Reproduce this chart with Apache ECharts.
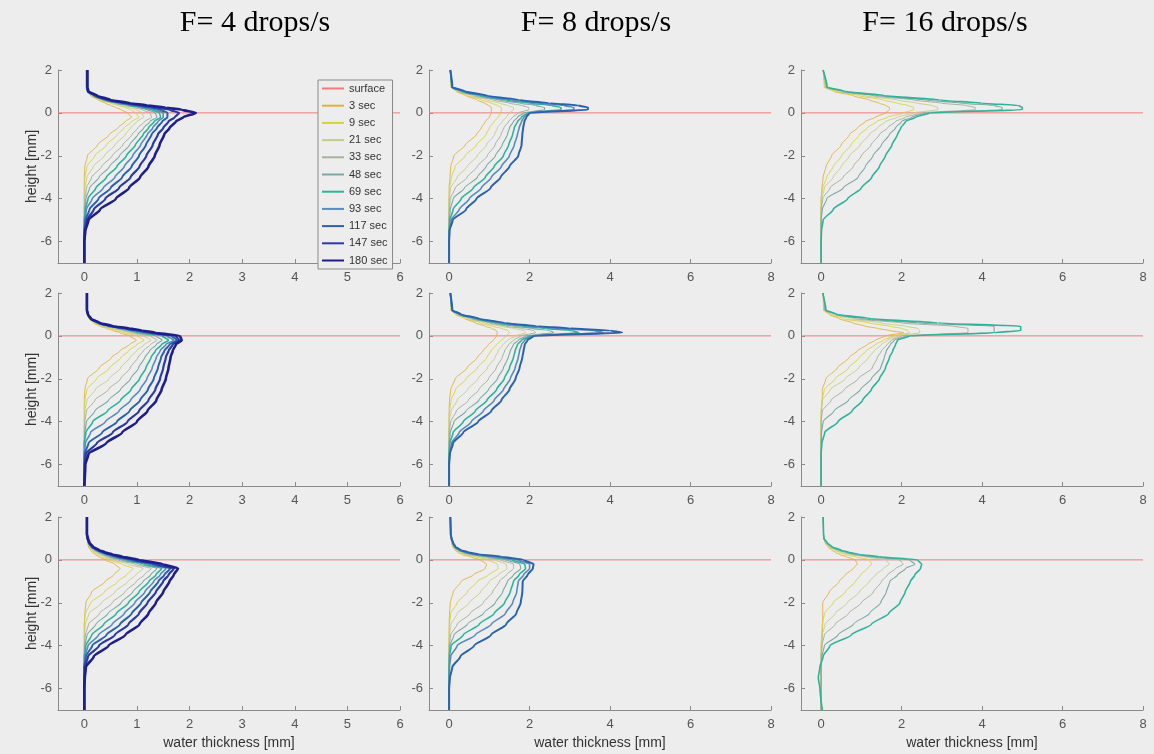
<!DOCTYPE html>
<html>
<head>
<meta charset="utf-8">
<script src="https://cdn.jsdelivr.net/npm/echarts@6/dist/echarts.min.js"></script>
<style>
html,body{margin:0;padding:0;background:#ededed;}
#chart{width:1154px;height:754px;}
</style>
</head>
<body>
<div id="chart"></div>
<script>
// ---------------- DATA ----------------
const heights = [2, 1.2, 1.0, 0.8, 0.6, 0.45, 0.35, 0.25, 0.15, 0, -0.2, -0.4, -0.7, -1, -1.5, -2, -2.5, -3, -3.5, -4, -4.5, -5, -5.5, -6, -7];
const timeLabels = ['3 sec', '9 sec', '21 sec', '33 sec', '48 sec', '69 sec', '93 sec', '117 sec', '147 sec', '180 sec'];
const panelTitles = ['F= 4 drops/s', 'F= 8 drops/s', 'F= 16 drops/s'];
const xTicksF4 = [0, 1, 2, 3, 4, 5, 6];
const xTicksF8F16 = [0, 2, 4, 6, 8];
const yTicks = [-6, -4, -2, 0, 2];
const surfaceXF4 = [-0.5, 6];
const surfaceXF8F16 = [-0.5, 8];
const surfaceH = [0, 0];

// water thickness [mm] at each height, one array per time
const thkF4_row1 = [
  [0.05,0.05,0.06,0.12,0.26,0.4,0.5,0.6,0.7,0.82,0.9,0.78,0.64,0.48,0.25,0.06,0.01,0,0,0,0,0,0,0,0],
  [0.05,0.05,0.06,0.14,0.3,0.5,0.64,0.78,0.88,0.98,1.04,0.9,0.76,0.63,0.42,0.2,0.05,0.01,0,0,0,0,0,0,0],
  [0.05,0.05,0.06,0.15,0.32,0.54,0.7,0.86,0.99,1.1,1.13,1.0,0.88,0.78,0.58,0.38,0.17,0.05,0.01,0,0,0,0,0,0],
  [0.05,0.05,0.06,0.16,0.34,0.58,0.77,0.95,1.1,1.25,1.28,1.15,1.02,0.91,0.73,0.53,0.33,0.14,0.04,0.01,0,0,0,0,0],
  [0.05,0.05,0.06,0.17,0.36,0.62,0.83,1.03,1.2,1.35,1.38,1.25,1.13,1.02,0.86,0.67,0.48,0.28,0.1,0.03,0.01,0,0,0,0],
  [0.05,0.05,0.06,0.18,0.38,0.66,0.88,1.1,1.28,1.43,1.45,1.33,1.22,1.12,0.97,0.8,0.62,0.42,0.22,0.07,0.02,0,0,0,0],
  [0.05,0.05,0.07,0.19,0.4,0.7,0.94,1.18,1.36,1.5,1.5,1.4,1.3,1.2,1.07,0.92,0.76,0.58,0.36,0.15,0.04,0.01,0,0,0],
  [0.05,0.05,0.07,0.2,0.42,0.74,1.0,1.25,1.45,1.58,1.58,1.48,1.38,1.28,1.17,1.04,0.9,0.72,0.5,0.27,0.1,0.02,0,0,0],
  [0.05,0.05,0.07,0.22,0.45,0.8,1.08,1.38,1.62,1.8,1.72,1.6,1.5,1.4,1.3,1.18,1.05,0.88,0.66,0.4,0.18,0.05,0.01,0,0],
  [0.06,0.06,0.08,0.25,0.5,0.88,1.2,1.55,1.85,2.12,1.88,1.74,1.62,1.52,1.43,1.34,1.22,1.06,0.85,0.6,0.3,0.08,0.02,0,0]
];
const thkF4_row2 = [
  [0.05,0.05,0.06,0.09,0.18,0.3,0.42,0.54,0.67,0.86,0.99,0.86,0.68,0.52,0.28,0.06,0.01,0,0,0,0,0,0,0,0],
  [0.05,0.05,0.06,0.09,0.2,0.34,0.48,0.61,0.76,1.0,1.14,1.0,0.84,0.7,0.48,0.23,0.05,0.01,0,0,0,0,0,0,0],
  [0.05,0.05,0.06,0.1,0.21,0.37,0.53,0.68,0.84,1.12,1.27,1.14,0.99,0.87,0.69,0.47,0.21,0.05,0.01,0,0,0,0,0,0],
  [0.05,0.05,0.06,0.1,0.22,0.4,0.58,0.75,0.92,1.25,1.38,1.26,1.12,1.02,0.87,0.69,0.46,0.2,0.04,0.01,0,0,0,0,0],
  [0.05,0.05,0.06,0.11,0.24,0.43,0.64,0.82,1.0,1.36,1.48,1.37,1.24,1.15,1.03,0.88,0.69,0.46,0.2,0.04,0.01,0,0,0,0],
  [0.05,0.05,0.07,0.11,0.25,0.46,0.68,0.88,1.08,1.48,1.6,1.47,1.35,1.27,1.17,1.05,0.89,0.69,0.44,0.16,0.03,0,0,0,0],
  [0.05,0.05,0.07,0.12,0.26,0.48,0.72,0.93,1.15,1.57,1.7,1.55,1.44,1.37,1.29,1.19,1.06,0.88,0.66,0.4,0.12,0.02,0,0,0],
  [0.05,0.05,0.07,0.12,0.27,0.5,0.76,0.98,1.22,1.66,1.76,1.62,1.52,1.46,1.4,1.32,1.21,1.06,0.86,0.62,0.34,0.08,0.01,0,0],
  [0.05,0.05,0.07,0.12,0.28,0.52,0.8,1.04,1.28,1.74,1.8,1.68,1.6,1.55,1.5,1.44,1.35,1.22,1.04,0.82,0.54,0.24,0.03,0.01,0],
  [0.05,0.05,0.07,0.13,0.3,0.55,0.86,1.1,1.35,1.82,1.85,1.74,1.68,1.64,1.6,1.55,1.47,1.37,1.2,1.0,0.72,0.42,0.08,0.02,0]
];
const thkF4_row3 = [
  [0.05,0.05,0.06,0.06,0.08,0.12,0.16,0.21,0.27,0.4,0.58,0.68,0.56,0.4,0.14,0.03,0.01,0,0,0,0,0,0,0,0],
  [0.05,0.05,0.06,0.07,0.09,0.14,0.19,0.25,0.32,0.48,0.72,0.93,0.8,0.64,0.38,0.12,0.02,0,0,0,0,0,0,0,0],
  [0.05,0.05,0.06,0.07,0.1,0.16,0.22,0.29,0.38,0.56,0.84,1.12,0.98,0.83,0.58,0.33,0.09,0.02,0,0,0,0,0,0,0],
  [0.05,0.05,0.06,0.07,0.11,0.18,0.25,0.33,0.43,0.64,0.95,1.27,1.14,0.99,0.77,0.53,0.29,0.08,0.02,0,0,0,0,0,0],
  [0.05,0.05,0.06,0.08,0.12,0.2,0.28,0.37,0.48,0.71,1.05,1.38,1.26,1.12,0.92,0.7,0.45,0.22,0.05,0.01,0,0,0,0,0],
  [0.05,0.05,0.06,0.08,0.13,0.22,0.31,0.41,0.53,0.78,1.14,1.47,1.36,1.23,1.04,0.84,0.61,0.37,0.14,0.03,0,0,0,0,0],
  [0.05,0.05,0.06,0.08,0.14,0.24,0.33,0.44,0.57,0.84,1.22,1.55,1.44,1.32,1.15,0.96,0.76,0.53,0.27,0.07,0.01,0,0,0,0],
  [0.05,0.05,0.06,0.09,0.15,0.25,0.35,0.47,0.61,0.9,1.3,1.63,1.52,1.41,1.25,1.08,0.9,0.68,0.42,0.15,0.03,0,0,0,0],
  [0.05,0.05,0.06,0.09,0.16,0.27,0.37,0.5,0.66,0.96,1.38,1.7,1.6,1.5,1.36,1.2,1.04,0.84,0.58,0.28,0.07,0.01,0,0,0],
  [0.05,0.05,0.07,0.1,0.17,0.29,0.4,0.55,0.72,1.05,1.5,1.78,1.7,1.62,1.5,1.36,1.22,1.05,0.78,0.46,0.18,0.03,0.01,0,0]
];
const thkF8_row1 = [
  [0.03,0.05,0.18,0.42,0.7,0.88,0.98,1.05,1.05,1.05,1.0,0.9,0.8,0.68,0.4,0.12,0.04,0.02,0,0,0,0,0,0,0],
  [0.03,0.05,0.2,0.48,0.82,1.05,1.2,1.3,1.3,1.28,1.22,1.12,1.0,0.92,0.68,0.4,0.15,0.06,0.01,0,0,0,0,0,0],
  [0.03,0.05,0.22,0.55,0.95,1.25,1.45,1.6,1.6,1.5,1.42,1.32,1.2,1.13,0.93,0.7,0.45,0.2,0.04,0,0,0,0,0,0],
  [0.03,0.06,0.25,0.62,1.1,1.5,1.8,1.98,1.98,1.72,1.58,1.48,1.36,1.29,1.14,0.95,0.7,0.45,0.15,0.03,0,0,0,0,0],
  [0.03,0.06,0.28,0.7,1.25,1.75,2.15,2.37,2.37,1.85,1.7,1.6,1.5,1.45,1.32,1.15,0.92,0.7,0.38,0.1,0.03,0,0,0,0],
  [0.03,0.07,0.32,0.78,1.4,2.0,2.55,2.78,2.78,1.95,1.8,1.7,1.62,1.58,1.48,1.35,1.12,0.9,0.6,0.3,0.1,0.02,0,0,0],
  [0.03,0.07,0.35,0.85,1.55,2.2,2.85,3.1,3.1,1.98,1.86,1.8,1.74,1.7,1.62,1.5,1.3,1.05,0.8,0.5,0.25,0.05,0.01,0,0],
  [0.03,0.08,0.4,0.95,1.75,2.5,3.2,3.45,3.45,2.0,1.92,1.87,1.84,1.82,1.8,1.72,1.5,1.28,1.03,0.68,0.42,0.09,0.01,0,0]
];
const thkF8_row2 = [
  [0.03,0.05,0.16,0.4,0.66,0.9,1.06,1.17,1.2,1.18,1.1,0.98,0.84,0.7,0.44,0.15,0.04,0.01,0,0,0,0,0,0,0],
  [0.03,0.05,0.18,0.45,0.78,1.08,1.3,1.46,1.5,1.42,1.3,1.18,1.04,0.94,0.7,0.42,0.16,0.05,0.01,0,0,0,0,0,0],
  [0.03,0.05,0.2,0.5,0.9,1.28,1.6,1.85,1.9,1.65,1.46,1.34,1.22,1.14,0.95,0.72,0.46,0.2,0.05,0,0,0,0,0,0],
  [0.03,0.06,0.22,0.55,1.0,1.42,1.8,2.1,2.15,1.78,1.6,1.48,1.38,1.32,1.17,0.98,0.74,0.48,0.18,0.04,0,0,0,0,0],
  [0.03,0.06,0.24,0.6,1.1,1.6,2.05,2.5,2.6,1.9,1.72,1.6,1.52,1.47,1.35,1.2,0.98,0.74,0.42,0.12,0.03,0,0,0,0],
  [0.03,0.07,0.26,0.65,1.2,1.8,2.4,3.05,3.22,2.0,1.8,1.7,1.64,1.6,1.5,1.37,1.18,0.94,0.65,0.35,0.1,0.02,0,0,0],
  [0.03,0.07,0.28,0.7,1.3,2.0,2.75,3.6,3.85,2.05,1.88,1.8,1.75,1.72,1.64,1.52,1.35,1.12,0.85,0.55,0.25,0.06,0.01,0,0],
  [0.03,0.08,0.3,0.75,1.4,2.2,3.0,4.0,4.3,2.1,1.95,1.88,1.85,1.82,1.75,1.65,1.5,1.3,1.05,0.72,0.35,0.1,0.02,0,0]
];
const thkF8_row3 = [
  [0.03,0.04,0.05,0.06,0.09,0.15,0.22,0.32,0.52,0.78,0.93,0.9,0.6,0.3,0.1,0.03,0.01,0,0,0,0,0,0,0,0],
  [0.03,0.04,0.05,0.07,0.1,0.17,0.26,0.39,0.65,0.98,1.2,1.22,0.98,0.7,0.45,0.2,0.04,0.01,0,0,0,0,0,0,0],
  [0.03,0.04,0.05,0.07,0.11,0.19,0.3,0.45,0.76,1.14,1.42,1.44,1.22,1.0,0.78,0.5,0.2,0.05,0.01,0,0,0,0,0,0],
  [0.03,0.04,0.05,0.08,0.12,0.21,0.33,0.5,0.86,1.28,1.6,1.6,1.42,1.25,1.08,0.85,0.52,0.2,0.04,0,0,0,0,0,0],
  [0.03,0.04,0.06,0.08,0.13,0.23,0.36,0.56,0.96,1.42,1.76,1.78,1.6,1.45,1.33,1.15,0.85,0.45,0.12,0.02,0,0,0,0,0],
  [0.03,0.04,0.06,0.09,0.14,0.25,0.4,0.62,1.06,1.56,1.88,1.9,1.74,1.6,1.52,1.38,1.12,0.75,0.35,0.05,0.01,0,0,0,0],
  [0.03,0.04,0.06,0.09,0.15,0.27,0.43,0.68,1.17,1.7,2.0,2.0,1.85,1.72,1.68,1.58,1.4,1.05,0.65,0.2,0.04,0.01,0,0,0],
  [0.03,0.04,0.06,0.1,0.16,0.3,0.48,0.76,1.3,1.85,2.1,2.08,1.95,1.83,1.82,1.78,1.67,1.42,1.04,0.62,0.28,0.08,0.02,0,0]
];
const thkF16_row1 = [
  [0.05,0.08,0.32,0.8,1.2,1.45,1.6,1.7,1.7,1.6,1.35,1.1,0.9,0.71,0.5,0.26,0.12,0.05,0.02,0,0,0,0,0,0],
  [0.05,0.09,0.38,0.95,1.55,1.9,2.15,2.3,2.3,2.05,1.65,1.38,1.15,0.96,0.74,0.51,0.3,0.14,0.04,0,0,0,0,0,0],
  [0.05,0.1,0.42,1.1,1.9,2.4,2.75,2.9,2.9,2.3,1.9,1.6,1.4,1.2,0.97,0.71,0.5,0.3,0.08,0.02,0,0,0,0,0],
  [0.05,0.12,0.5,1.3,2.3,3.0,3.6,3.83,3.83,2.5,2.1,1.85,1.65,1.45,1.24,1.0,0.8,0.55,0.22,0.04,0,0,0,0,0],
  [0.05,0.14,0.55,1.45,2.6,3.5,4.3,4.5,4.5,2.6,2.25,2.0,1.85,1.7,1.5,1.29,1.1,0.92,0.55,0.14,0.03,0,0,0,0],
  [0.05,0.15,0.6,1.6,2.95,4.0,4.9,5.0,5.0,2.7,2.35,2.1,1.98,1.9,1.76,1.6,1.45,1.26,1.0,0.66,0.3,0.05,0.01,0,0]
];
const thkF16_row2 = [
  [0.05,0.06,0.2,0.45,0.8,1.1,1.4,1.7,2.05,1.6,1.35,1.15,0.9,0.7,0.4,0.12,0.03,0.03,0.01,0,0,0,0,0,0],
  [0.05,0.07,0.25,0.55,1.2,1.7,2.0,2.15,2.2,1.8,1.55,1.35,1.12,0.95,0.68,0.35,0.08,0.02,0,0,0,0,0,0,0],
  [0.05,0.08,0.3,0.7,1.5,2.1,2.4,2.45,2.45,1.9,1.65,1.5,1.32,1.18,0.93,0.6,0.23,0.03,0,0,0,0,0,0,0],
  [0.05,0.09,0.35,0.85,2.0,3.3,3.65,3.65,3.65,2.0,1.75,1.64,1.5,1.4,1.27,0.92,0.58,0.25,0.03,0,0,0,0,0,0],
  [0.05,0.1,0.38,1.0,2.4,4.3,4.3,4.3,4.3,2.1,1.82,1.72,1.62,1.57,1.48,1.25,0.98,0.68,0.32,0.05,0.01,0,0,0,0],
  [0.04,0.12,0.4,1.25,2.9,4.96,4.96,4.96,4.3,2.2,1.9,1.85,1.78,1.7,1.6,1.45,1.25,1.03,0.77,0.42,0.09,0.02,0,0,0]
];
const thkF16_row3 = [
  [0.05,0.06,0.07,0.1,0.17,0.27,0.36,0.46,0.62,0.85,0.9,0.8,0.6,0.45,0.2,0.04,0.04,0.04,0.03,0.02,0,0,0,0,0],
  [0.05,0.06,0.07,0.11,0.2,0.33,0.45,0.6,0.85,1.2,1.26,1.15,0.98,0.85,0.6,0.3,0.08,0.03,0.01,0,0,0,0,0,0],
  [0.05,0.06,0.07,0.12,0.22,0.38,0.52,0.72,1.06,1.62,1.69,1.55,1.35,1.2,0.95,0.65,0.35,0.1,0.03,0,0,0,0,0,0],
  [0.05,0.06,0.07,0.13,0.24,0.42,0.58,0.8,1.2,1.95,2.04,1.85,1.65,1.5,1.3,1.0,0.68,0.35,0.08,0.02,0,0,0,0,0],
  [0.05,0.06,0.07,0.14,0.26,0.46,0.64,0.88,1.32,2.2,2.33,2.1,1.9,1.71,1.62,1.48,1.2,0.8,0.42,0.08,0.02,0,0,0,0],
  [0.05,0.06,0.07,0.15,0.28,0.5,0.7,0.96,1.45,2.4,2.5,2.47,2.33,2.22,2.09,1.96,1.68,1.25,0.75,0.22,0.05,-0.03,-0.07,-0.03,0.03]
];

// ---------------- STYLE ----------------
const curveColors = ['#e2b03c', '#d6d23e', '#c4cc88', '#a6b29e', '#7ca8a3', '#2fb29a', '#5a8bbd', '#2b62ad', '#2b3aa6', '#1e1e8c'];
const curveWidths = [0.9, 0.9, 0.9, 1.0, 1.1, 1.6, 1.6, 2.0, 2.2, 2.6];
const surfaceColor = '#ef7b7b';
const bg = '#ededed';
const axisColor = '#8a8a8a';
const labelColor = '#555555';
const sansFont = '"Liberation Sans", Arial, Helvetica, sans-serif';

const colLeft = [58, 429, 801];
const colWidth = 342;
const rowTop = [70, 293, 517];
const rowHeight = 193;

const panelData = [
  [thkF4_row1, thkF8_row1, thkF16_row1],
  [thkF4_row2, thkF8_row2, thkF16_row2],
  [thkF4_row3, thkF8_row3, thkF16_row3]
];

const grids = [], xAxes = [], yAxes = [], series = [];
let k = 0;
for (let r = 0; r < 3; r++) {
  for (let c = 0; c < 3; c++) {
    grids.push({left: colLeft[c], top: rowTop[r], width: colWidth, height: rowHeight, containLabel: false});
    const xt = c === 0 ? xTicksF4 : xTicksF8F16;
    const sx = c === 0 ? surfaceXF4 : surfaceXF8F16;
    xAxes.push({
      type: 'value', gridIndex: k, min: -0.5, max: xt[xt.length - 1],
      axisLine: {show: true, onZero: false, lineStyle: {color: axisColor, width: 1}},
      axisTick: {show: true, inside: true, length: 4, customValues: xt, lineStyle: {color: axisColor}},
      axisLabel: {show: true, customValues: xt, color: labelColor, fontSize: 13, fontFamily: sansFont, margin: 8},
      splitLine: {show: false}
    });
    yAxes.push({
      type: 'value', gridIndex: k, min: -7, max: 2,
      axisLine: {show: true, onZero: false, lineStyle: {color: axisColor, width: 1}},
      axisTick: {show: true, inside: true, length: 4, customValues: yTicks, lineStyle: {color: axisColor}},
      axisLabel: {show: true, customValues: yTicks, color: labelColor, fontSize: 13, fontFamily: sansFont, margin: 6},
      splitLine: {show: false}
    });
    series.push({
      type: 'line', name: 'surface', xAxisIndex: k, yAxisIndex: k,
      data: sx.map((x, i) => [x, surfaceH[i]]),
      symbol: 'none', color: surfaceColor,
      lineStyle: {color: surfaceColor, width: 1}, z: 1
    });
    const curves = panelData[r][c];
    curves.forEach((thk, i) => {
      series.push({
        type: 'line', name: timeLabels[i], xAxisIndex: k, yAxisIndex: k,
        data: heights.map((h, j) => [thk[j], h]),
        symbol: 'none', color: curveColors[i],
        smooth: 0.2, smoothMonotone: 'y',
        lineStyle: {color: curveColors[i], width: curveWidths[i]},
        z: 2 + i
      });
    });
    k++;
  }
}

const titleX = [255, 596, 945];
const graphics = [];
panelTitles.forEach((t, i) => {
  graphics.push({type: 'text', x: titleX[i], y: 23,
    style: {text: t, align: 'center', verticalAlign: 'middle',
      font: '30px "Liberation Serif", "Times New Roman", serif', fill: '#000'}});
});
for (let r = 0; r < 3; r++) {
  graphics.push({type: 'text', x: 32, y: rowTop[r] + rowHeight / 2, rotation: Math.PI / 2,
    style: {text: 'height [mm]', align: 'center', verticalAlign: 'middle',
      font: '14px ' + sansFont, fill: '#333'}});
}
for (let c = 0; c < 3; c++) {
  graphics.push({type: 'text', x: colLeft[c] + colWidth / 2, y: 743,
    style: {text: 'water thickness [mm]', align: 'center', verticalAlign: 'middle',
      font: '14px ' + sansFont, fill: '#333'}});
}

const chart = echarts.init(document.getElementById('chart'), null, {renderer: 'canvas'});
chart.setOption({
  backgroundColor: bg,
  animation: false,
  grid: grids,
  xAxis: xAxes,
  yAxis: yAxes,
  legend: {
    data: ['surface'].concat(timeLabels),
    orient: 'vertical', left: 318, top: 80,
    itemWidth: 22, itemHeight: 10, itemGap: 6.2, itemTextGap: 4,
    padding: [3, 5, 3, 3],
    borderColor: '#8a8a8a', borderWidth: 1, backgroundColor: bg,
    selectedMode: false,
    itemStyle: {opacity: 0},
    textStyle: {fontSize: 11, fontFamily: sansFont, color: '#333'}
  },
  graphic: graphics,
  series: series
});
</script>
</body>
</html>
